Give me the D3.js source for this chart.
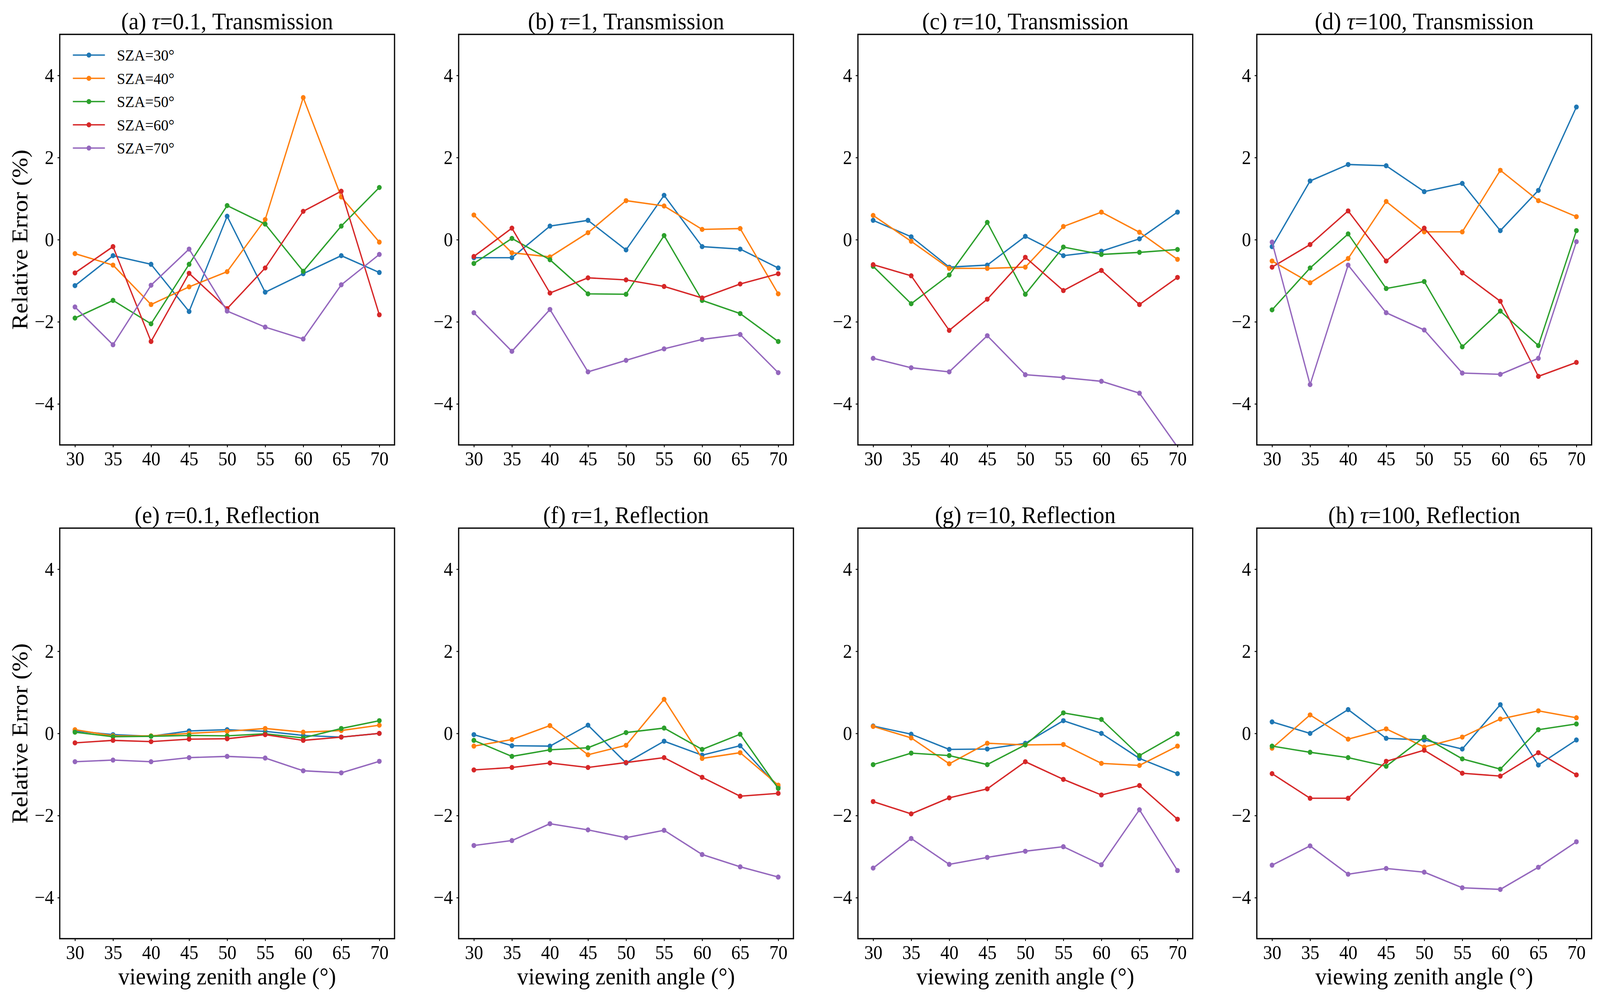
<!DOCTYPE html>
<html lang="en">
<head>
<meta charset="UTF-8">
<title>Relative error vs viewing zenith angle</title>
<script src="https://d3js.org/d3.v7.min.js"></script>
<style>
  html, body { margin: 0; padding: 0; width: 100%; height: 100%; overflow: hidden; background: #fff; }
  svg { display: block; width: 100vw; height: 100vh; font-family: "Liberation Serif", "Times New Roman", serif; }
  .axis path, .axis line { stroke: #000; }
  .axis text { fill: #000; }
</style>
</head>
<body>
<svg id="chart" viewBox="0 0 4392 2560" preserveAspectRatio="none"></svg>
<script>
// x values (viewing zenith angle) and series (solar zenith angle)
const vza = [30, 35, 40, 45, 50, 55, 60, 65, 70];
const sza = [30, 40, 50, 60, 70];
const colors = ["#1f77b4", "#ff7f0e", "#2ca02c", "#d62728", "#9467bd"];
const yTicks = [-4, -2, 0, 2, 4];

// relative error (%) per panel, one row per SZA
const transTau01 = [
  [-1.12, -0.39, -0.60, -1.75, 0.57, -1.28, -0.83, -0.39, -0.80],
  [-0.34, -0.62, -1.58, -1.15, -0.78, 0.49, 3.46, 1.04, -0.06],
  [-1.91, -1.48, -2.05, -0.60, 0.83, 0.38, -0.77, 0.33, 1.27],
  [-0.81, -0.17, -2.48, -0.82, -1.68, -0.69, 0.69, 1.18, -1.83],
  [-1.64, -2.56, -1.11, -0.23, -1.74, -2.13, -2.42, -1.10, -0.36]
];
const transTau1 = [
  [-0.44, -0.44, 0.33, 0.47, -0.25, 1.08, -0.17, -0.23, -0.69],
  [0.60, -0.32, -0.42, 0.17, 0.95, 0.82, 0.25, 0.27, -1.32],
  [-0.58, 0.03, -0.49, -1.32, -1.33, 0.10, -1.48, -1.80, -2.48],
  [-0.41, 0.28, -1.30, -0.93, -0.98, -1.14, -1.42, -1.08, -0.83],
  [-1.78, -2.72, -1.70, -3.22, -2.94, -2.66, -2.43, -2.31, -3.24]
];
const transTau10 = [
  [0.47, 0.07, -0.67, -0.62, 0.08, -0.39, -0.28, 0.02, 0.67],
  [0.59, -0.04, -0.70, -0.70, -0.67, 0.32, 0.67, 0.18, -0.48],
  [-0.65, -1.56, -0.86, 0.42, -1.33, -0.18, -0.36, -0.31, -0.24],
  [-0.61, -0.88, -2.21, -1.45, -0.43, -1.24, -0.75, -1.58, -0.92],
  [-2.89, -3.12, -3.22, -2.34, -3.29, -3.36, -3.45, -3.74, -5.05]
];
const transTau100 = [
  [-0.17, 1.43, 1.83, 1.80, 1.17, 1.37, 0.22, 1.20, 3.23],
  [-0.52, -1.05, -0.46, 0.93, 0.19, 0.19, 1.69, 0.95, 0.56],
  [-1.71, -0.69, 0.14, -1.19, -1.02, -2.61, -1.74, -2.58, 0.22],
  [-0.67, -0.12, 0.70, -0.52, 0.28, -0.81, -1.50, -3.33, -2.99],
  [-0.06, -3.53, -0.62, -1.78, -2.20, -3.25, -3.28, -2.89, -0.05]
];
const reflTau01 = [
  [0.06, -0.03, -0.07, 0.06, 0.09, 0.05, -0.05, -0.09, 0.00],
  [0.09, -0.06, -0.06, 0.00, 0.05, 0.12, 0.03, 0.07, 0.20],
  [0.03, -0.08, -0.07, -0.05, -0.06, -0.01, -0.11, 0.12, 0.31],
  [-0.23, -0.17, -0.20, -0.14, -0.13, -0.03, -0.17, -0.09, 0.00],
  [-0.69, -0.65, -0.69, -0.59, -0.56, -0.60, -0.91, -0.96, -0.68]
];
const reflTau1 = [
  [-0.03, -0.30, -0.31, 0.20, -0.72, -0.19, -0.53, -0.30, -1.31],
  [-0.31, -0.15, 0.19, -0.52, -0.29, 0.83, -0.61, -0.47, -1.26],
  [-0.17, -0.56, -0.40, -0.35, 0.02, 0.13, -0.39, -0.02, -1.34],
  [-0.89, -0.83, -0.72, -0.83, -0.71, -0.59, -1.07, -1.53, -1.46],
  [-2.73, -2.61, -2.20, -2.35, -2.54, -2.36, -2.95, -3.25, -3.50]
];
const reflTau10 = [
  [0.18, -0.02, -0.39, -0.38, -0.24, 0.31, 0.00, -0.61, -0.98],
  [0.17, -0.11, -0.74, -0.24, -0.28, -0.27, -0.73, -0.78, -0.31],
  [-0.76, -0.48, -0.54, -0.76, -0.28, 0.50, 0.34, -0.54, -0.01],
  [-1.66, -1.96, -1.57, -1.35, -0.69, -1.12, -1.50, -1.27, -2.09],
  [-3.28, -2.56, -3.19, -3.02, -2.87, -2.76, -3.20, -1.86, -3.34]
];
const reflTau100 = [
  [0.28, 0.00, 0.58, -0.12, -0.16, -0.38, 0.70, -0.77, -0.16],
  [-0.36, 0.45, -0.14, 0.11, -0.33, -0.09, 0.35, 0.55, 0.38],
  [-0.31, -0.46, -0.59, -0.80, -0.09, -0.62, -0.87, 0.09, 0.23],
  [-0.98, -1.58, -1.58, -0.68, -0.41, -0.97, -1.04, -0.47, -1.01],
  [-3.21, -2.74, -3.43, -3.29, -3.38, -3.76, -3.80, -3.26, -2.64]
];

const panels = [
  { tag: "(a)", tau: "0.1", kind: "Transmission", data: transTau01 },
  { tag: "(b)", tau: "1", kind: "Transmission", data: transTau1 },
  { tag: "(c)", tau: "10", kind: "Transmission", data: transTau10 },
  { tag: "(d)", tau: "100", kind: "Transmission", data: transTau100 },
  { tag: "(e)", tau: "0.1", kind: "Reflection", data: reflTau01 },
  { tag: "(f)", tau: "1", kind: "Reflection", data: reflTau1 },
  { tag: "(g)", tau: "10", kind: "Reflection", data: reflTau10 },
  { tag: "(h)", tau: "100", kind: "Reflection", data: reflTau100 }
];

// layout (in viewBox units)
const lefts = [164, 1259, 2355, 3450];
const tops = [88, 1352];
const pw = 919, ph = 1051;
const serif = '"Liberation Serif", "Times New Roman", serif';

const svg = d3.select("#chart");
svg.append("rect").attr("width", 4392).attr("height", 2560).attr("fill", "#fff");

const x = d3.scaleLinear().domain([28, 72]).range([0, pw]);
const y = d3.scaleLinear().domain([-5, 5]).range([ph, 0]);

const line = d3.line().x((d, i) => x(vza[i])).y(d => y(d));

panels.forEach((p, k) => {
  const col = k % 4, row = Math.floor(k / 4);
  const g = svg.append("g").attr("transform", `translate(${lefts[col]},${tops[row]})`);

  const clipId = "clip" + k;
  g.append("clipPath").attr("id", clipId)
    .append("rect").attr("width", pw).attr("height", ph);

  // axes
  const xa = g.append("g").attr("class", "axis")
    .attr("transform", `translate(0,${ph})`)
    .call(d3.axisBottom(x).tickValues(vza).tickSize(6).tickSizeOuter(0))
    .attr("font-family", serif).attr("font-size", 50);
  xa.select(".domain").remove();
  xa.selectAll("line").attr("stroke-width", 2.4);
  xa.selectAll("text").attr("y", 35).attr("dy", "0.35em");

  const ya = g.append("g").attr("class", "axis")
    .call(d3.axisLeft(y).tickValues(yTicks).tickSize(6).tickPadding(10).tickSizeOuter(0))
    .attr("font-family", serif).attr("font-size", 50);
  ya.select(".domain").remove();
  ya.selectAll("line").attr("stroke-width", 2.4);

  // series
  const plot = g.append("g").attr("clip-path", `url(#${clipId})`);
  p.data.forEach((vals, s) => {
    plot.append("path")
      .attr("d", line(vals))
      .attr("fill", "none")
      .attr("stroke", colors[s])
      .attr("stroke-width", 3.6)
      .attr("stroke-linejoin", "round");
    plot.selectAll(null)
      .data(vals)
      .enter()
      .append("circle")
      .attr("cx", (d, i) => x(vza[i]))
      .attr("cy", d => y(d))
      .attr("r", 6.5)
      .attr("fill", colors[s]);
  });

  // frame
  g.append("rect")
    .attr("width", pw).attr("height", ph)
    .attr("fill", "none").attr("stroke", "#000").attr("stroke-width", 3.3);

  // title
  const t = g.append("text")
    .attr("x", pw / 2).attr("y", -13)
    .attr("text-anchor", "middle")
    .attr("font-size", 62);
  t.append("tspan").text(p.tag + " ");
  t.append("tspan").attr("font-style", "italic").text("τ");
  t.append("tspan").text("=" + p.tau + ", " + p.kind);

  if (col === 0) {
    g.append("text")
      .attr("transform", `translate(${75 - lefts[0]},${ph / 2}) rotate(-90)`)
      .attr("text-anchor", "middle")
      .attr("font-size", 62)
      .text("Relative Error (%)");
  }
  if (row === 1) {
    g.append("text")
      .attr("x", pw / 2).attr("y", 2520 - tops[1])
      .attr("text-anchor", "middle")
      .attr("font-size", 62)
      .text("viewing zenith angle (°)");
  }

  // legend in the first panel
  if (k === 0) {
    const lg = g.append("g");
    sza.forEach((a, s) => {
      const ly = 53 + s * 59.5;
      lg.append("line")
        .attr("x1", 36).attr("x2", 124).attr("y1", ly).attr("y2", ly)
        .attr("stroke", colors[s]).attr("stroke-width", 3.6);
      lg.append("circle")
        .attr("cx", 80).attr("cy", ly).attr("r", 6.5).attr("fill", colors[s]);
      lg.append("text")
        .attr("x", 157).attr("y", ly).attr("dy", "0.35em")
        .attr("font-size", 41)
        .text("SZA=" + a + "°");
    });
  }
});
</script>
</body>
</html>
